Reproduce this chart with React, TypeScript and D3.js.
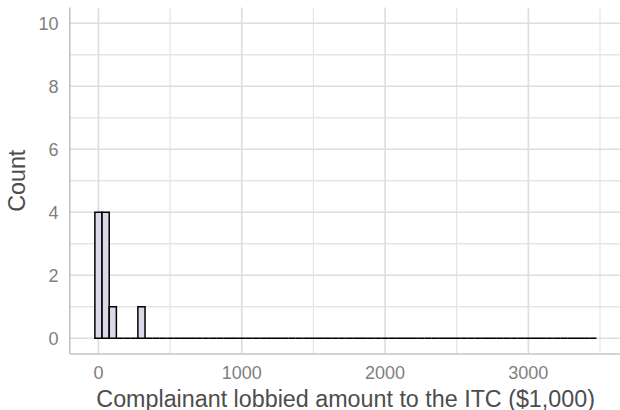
import React from "react";
import * as d3 from "d3";

// Histogram bins (width 50, centred on the listed value) and their counts
const binWidth = 50;
const binCenters = [
  0, 50, 100, 150, 200, 250, 300, 350, 400, 450,
  500, 550, 600, 650, 700, 750, 800, 850, 900, 950,
  1000, 1050, 1100, 1150, 1200, 1250, 1300, 1350, 1400, 1450,
  1500, 1550, 1600, 1650, 1700, 1750, 1800, 1850, 1900, 1950,
  2000, 2050, 2100, 2150, 2200, 2250, 2300, 2350, 2400, 2450,
  2500, 2550, 2600, 2650, 2700, 2750, 2800, 2850, 2900, 2950,
  3000, 3050, 3100, 3150, 3200, 3250, 3300, 3350, 3400, 3450,
];
const counts = [
  4, 4, 1, 0, 0, 0, 1, 0, 0, 0,
  0, 0, 0, 0, 0, 0, 0, 0, 0, 0,
  0, 0, 0, 0, 0, 0, 0, 0, 0, 0,
  0, 0, 0, 0, 0, 0, 0, 0, 0, 0,
  0, 0, 0, 0, 0, 0, 0, 0, 0, 0,
  0, 0, 0, 0, 0, 0, 0, 0, 0, 0,
  0, 0, 0, 0, 0, 0, 0, 0, 0, 0,
];

const xTicks = [0, 1000, 2000, 3000];
const xMinor = [500, 1500, 2500, 3500];
const yTicks = [0, 2, 4, 6, 8, 10];
const yMinor = [1, 3, 5, 7, 9];

const xLabel = "Complainant lobbied amount to the ITC ($1,000)";
const yLabel = "Count";

const W = 620;
const H = 410;
const panel = { left: 69.8, right: 621.5, top: 7.5, bottom: 354 };

export default function App() {
  const x = d3.scaleLinear().domain([-200, 3650]).range([panel.left, panel.right]);
  const y = d3.scaleLinear().domain([-0.5, 10.5]).range([panel.bottom, panel.top]);
  const font = "'Liberation Sans', Arial, Helvetica, sans-serif";

  const bins = binCenters.map((c, i) => ({ x0: c - binWidth / 2, x1: c + binWidth / 2, n: counts[i] }));

  return (
    <svg
      width={W}
      height={H}
      style={{ position: "absolute", left: 0, top: 0, background: "#fff" }}
      fontFamily={font}
    >
      {/* minor grid */}
      {xMinor.map((v) => (
        <line key={"xm" + v} x1={x(v)} x2={x(v)} y1={panel.top} y2={panel.bottom} stroke="#e6e6e6" strokeWidth={1.3} />
      ))}
      {yMinor.map((v) => (
        <line key={"ym" + v} x1={panel.left} x2={panel.right} y1={y(v)} y2={y(v)} stroke="#e6e6e6" strokeWidth={1.3} />
      ))}
      {/* major grid */}
      {xTicks.map((v) => (
        <line key={"xg" + v} x1={x(v)} x2={x(v)} y1={panel.top} y2={panel.bottom} stroke="#dedede" strokeWidth={1.7} />
      ))}
      {yTicks.map((v) => (
        <line key={"yg" + v} x1={panel.left} x2={panel.right} y1={y(v)} y2={y(v)} stroke="#dedede" strokeWidth={1.7} />
      ))}

      {/* axis lines */}
      <line x1={panel.left} x2={panel.left} y1={panel.top} y2={panel.bottom} stroke="#c4c4c4" strokeWidth={1.6} />
      <line x1={panel.left} x2={panel.right} y1={panel.bottom} y2={panel.bottom} stroke="#c4c4c4" strokeWidth={1.6} />

      {/* bars (paths so zero-count bins still draw their outline) */}
      {bins.map((b, i) => {
        const x0 = x(b.x0);
        const x1 = x(b.x1);
        const y0 = y(0);
        const y1 = y(b.n);
        return (
          <path
            key={"b" + i}
            d={`M${x0},${y0}V${y1}H${x1}V${y0}Z`}
            fill="#d9d9ea"
            stroke="#000"
            strokeWidth={1.5}
          />
        );
      })}

      {/* tick labels */}
      {xTicks.map((v) => (
        <text key={"xt" + v} x={x(v)} y={379} textAnchor="middle" fontSize={18} fill="#7f7f7f">
          {v}
        </text>
      ))}
      {yTicks.map((v) => (
        <text key={"yt" + v} x={58.5} y={y(v)} dy="0.36em" textAnchor="end" fontSize={18} fill="#7f7f7f">
          {v}
        </text>
      ))}

      {/* axis titles */}
      <text x={(panel.left + panel.right) / 2} y={406.5} textAnchor="middle" fontSize={23.3} fill="#4d4d4d">
        {xLabel}
      </text>
      <text
        transform={`translate(25,${(panel.top + panel.bottom) / 2}) rotate(-90)`}
        textAnchor="middle"
        fontSize={23.3}
        fill="#4d4d4d"
      >
        {yLabel}
      </text>
    </svg>
  );
}
